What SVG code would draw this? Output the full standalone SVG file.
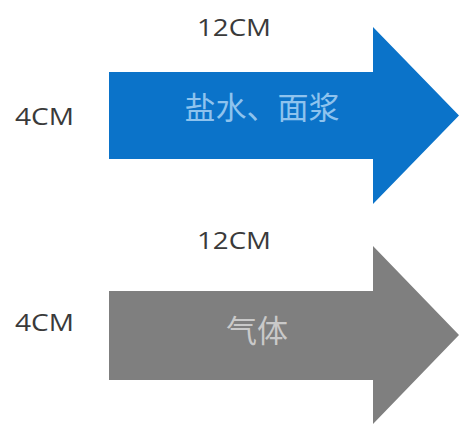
<svg xmlns="http://www.w3.org/2000/svg" width="459" height="428" viewBox="0 0 459 428">
<style>
.lbl{font-family:"Open Sans","Liberation Sans",sans-serif;font-size:23px;font-weight:500;fill:#3a3a3a}
.cn{font-family:"Noto Sans CJK SC",sans-serif;font-size:31px;text-anchor:middle}
</style>
<rect width="459" height="428" fill="#ffffff"/>
<g id="blue-arrow">
<polygon points="109,72 373,72 373,27 459,115.5 373,204 373,159 109,159" fill="#0b73c9"/>
<text class="cn" x="262" y="119" fill="#8ec3ee">盐水、面浆</text>
</g>
<g id="gray-arrow">
<polygon points="109,291 373,291 373,246 459,335 373,424 373,380 109,380" fill="#7f7f7f"/>
<text class="cn" x="257" y="342" fill="#c9c9c9">气体</text>
</g>
<g id="labels">
<text class="lbl" x="197" y="36" textLength="74" lengthAdjust="spacingAndGlyphs">12CM</text>
<text class="lbl" x="15" y="125" textLength="59" lengthAdjust="spacingAndGlyphs">4CM</text>
<text class="lbl" x="197" y="249" textLength="74" lengthAdjust="spacingAndGlyphs">12CM</text>
<text class="lbl" x="15" y="331" textLength="59" lengthAdjust="spacingAndGlyphs">4CM</text>
</g>
<g id="connectors"></g>
</svg>
